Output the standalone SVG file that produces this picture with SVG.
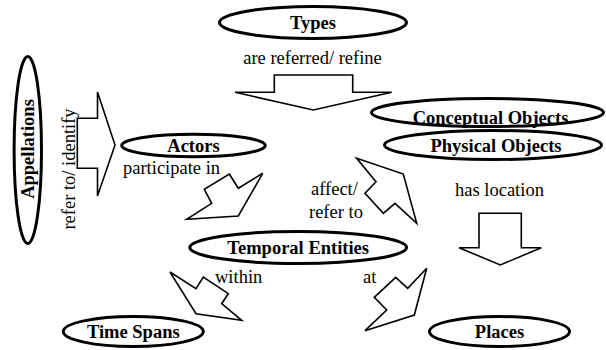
<svg xmlns="http://www.w3.org/2000/svg" width="606" height="350" viewBox="0 0 606 350">
<style>
.node ellipse{fill:none;stroke:#000;stroke-width:3}
.node text{font-family:"Liberation Serif","Times New Roman",serif;font-size:18.5px;font-weight:bold;text-anchor:middle;fill:#000}
.arrow{fill:#fff;stroke:#000;stroke-width:1.6;stroke-linejoin:miter}
.lbl{font-family:"Liberation Serif","Times New Roman",serif;font-size:18.5px;fill:#000}
</style>
<rect width="606" height="350" fill="#fff"/>
<g id="connectors">
<polygon class="arrow" points="235,92.3 274.3,92.3 274.3,75 352.7,75 352.7,92.3 391.7,92.3 313.3,110"/>
<text class="lbl" x="312.5" y="64" text-anchor="middle">are referred/ refine</text>
<polygon class="arrow" points="77.3,118.3 97.5,118.3 97.5,92 115,145 97.5,196 97.5,168.3 77.3,168.3"/>
<text class="lbl" transform="translate(75,169) rotate(-90)" text-anchor="middle">refer to/ identify</text>
<polygon class="arrow" points="229.3,174 238.3,188.3 262.7,173.3 238.3,216 186.7,219.3 211.7,203.3 204.3,189.3"/>
<text class="lbl" x="123" y="174">participate in</text>
<polygon class="arrow" points="356.7,158.3 403.3,174 416.7,223.3 395,203.3 383.3,213.3 365,193.3 376,181.7"/>
<text class="lbl" x="311" y="195">affect/</text>
<text class="lbl" x="309" y="218">refer to</text>
<polygon class="arrow" points="479,213.3 521.3,213.3 521.3,247.7 541.3,247.7 500.3,265 459,247.7 479,247.7"/>
<text class="lbl" x="455" y="196">has location</text>
<polygon class="arrow" points="170,272 196,288.7 203.3,277 228.3,293.7 221.7,303.7 241.7,320.3 196,313.7"/>
<text class="lbl" x="215" y="283">within</text>
<polygon class="arrow" points="426.7,268.3 414.3,315 365,330.7 386.7,310 374.3,297.3 395.7,277.3 407.7,288.3"/>
<text class="lbl" x="363" y="283">at</text>
</g>
<g id="types" class="node"><ellipse cx="313" cy="22.5" rx="93.5" ry="16"/><text x="313" y="29">Types</text></g>
<g id="appellations" class="node"><ellipse cx="27.8" cy="150" rx="13.7" ry="93.5"/><text transform="translate(34,149) rotate(-90)">Appellations</text></g>
<g id="actors" class="node"><ellipse cx="193.5" cy="145.5" rx="71.8" ry="11.3"/><text x="193.5" y="151.5">Actors</text></g>
<g id="conceptual-objects" class="node"><ellipse cx="487.5" cy="112.5" rx="116" ry="14"/><text x="490.5" y="123.5">Conceptual Objects</text></g>
<g id="physical-objects" class="node"><ellipse cx="493" cy="145" rx="108.5" ry="14.5"/><text x="496" y="152">Physical Objects</text></g>
<g id="temporal-entities" class="node"><ellipse cx="298.2" cy="247.5" rx="108.4" ry="16"/><text x="298.2" y="254">Temporal Entities</text></g>
<g id="time-spans" class="node"><ellipse cx="133.3" cy="331.5" rx="70" ry="15"/><text x="133.3" y="338">Time Spans</text></g>
<g id="places" class="node"><ellipse cx="499.5" cy="331.5" rx="70" ry="15"/><text x="499.5" y="338">Places</text></g>
</svg>
